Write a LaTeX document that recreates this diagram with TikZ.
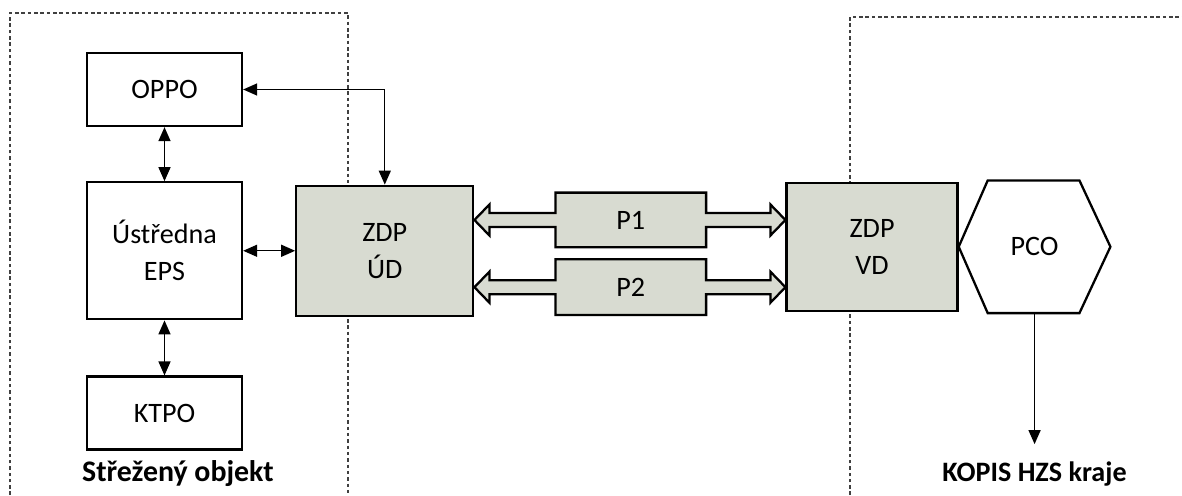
\documentclass[tikz,border=0pt]{standalone}
\usepackage{fontspec}
\setmainfont{Carlito}
\usetikzlibrary{arrows.meta,calc,positioning,backgrounds}
\definecolor{zdpfill}{RGB}{216,219,209}

\begin{document}
\begin{tikzpicture}[
  font=\fontsize{16}{21}\selectfont,
  box/.style={draw, line width=1.3pt, align=center, minimum width=3.1cm, minimum height=1.46cm},
  zdp/.style={box, fill=zdpfill, minimum height=2.6cm},
  pbox/.style={align=center, minimum width=3.0cm, minimum height=1.08cm},
  fat/.style={draw, line width=1.3pt, fill=zdpfill, line join=miter},
  arr/.style={{Triangle[length=2.8mm,width=2.4mm]}-{Triangle[length=2.8mm,width=2.4mm]}, line width=0.8pt},
  arr1/.style={-{Triangle[length=2.8mm,width=2.4mm]}, line width=0.8pt},
  frame/.style={line width=0.8pt, draw=black!75, dash pattern=on 2pt off 1.6pt},
  lbl/.style={font=\fontsize{16}{21}\selectfont\bfseries, inner sep=0pt}]
\useasboundingbox (0,0) rectangle (23.64,9.9);
\node[box] (opo) at (3.29,8.11) {OPPO};
\node[box, below=1.08cm of opo, minimum height=2.74cm] (eps) {Ústředna\\EPS};
\node[box, below=1.1cm of eps] (ktpo) {KTPO};
\node[zdp, right=1.04cm of eps, minimum width=3.54cm] (zud) {ZDP\\ÚD};
\node[pbox, right=1.62cm of zud.north east, anchor=north west, yshift=-0.16cm] (p1) {P1};
\node[pbox, below=0.24cm of p1, minimum height=1.1cm] (p2) {P2};
\node[zdp, right=6.22cm of zud, yshift=0.08cm, minimum width=3.42cm, minimum height=2.56cm] (zvd) {ZDP\\VD};
\node[right=0cm of zvd, minimum width=3.02cm, minimum height=2.64cm] (pco) {PCO};
\node[lbl, below=0.18cm of ktpo.south west, anchor=north west, xshift=-0.08cm,
  font=\fontsize{17}{21}\selectfont\bfseries] (obj) {Střežený objekt};
\node[lbl, below=2.96cm of pco] (kopis) {KOPIS HZS kraje};
% hexagon of PCO
\draw[line width=1.3pt, line join=miter] (pco.west) -- ([xshift=0.58cm]pco.north west)
  -- ([xshift=-0.62cm]pco.north east) -- (pco.east) -- ([xshift=-0.62cm]pco.south east)
  -- ([xshift=0.58cm]pco.south west) -- cycle;
\begin{scope}[on background layer]
% guarded object and KOPIS frames
\draw[frame] (0.2,0) -- (0.2,9.64) -- (6.96,9.64) -- (6.96,0);
\draw[frame] (17.0,0) -- (17.0,9.56) -- (23.64,9.56);
% transfer paths P1, P2
\foreach \p in {p1,p2}{
  \draw[fat] (\p.north west) -- ($(\p.west)+(0,0.14)$)
    -- ($(zud.east|-\p.west)+(0.3,0.14)$) -- ($(zud.east|-\p.west)+(0.3,0.31)$)
    -- (zud.east|-\p.west)
    -- ($(zud.east|-\p.west)+(0.3,-0.31)$) -- ($(zud.east|-\p.west)+(0.3,-0.14)$)
    -- ($(\p.west)+(0,-0.14)$) -- (\p.south west) -- (\p.south east)
    -- ($(\p.east)+(0,-0.14)$)
    -- ($(zvd.west|-\p.east)+(-0.3,-0.14)$) -- ($(zvd.west|-\p.east)+(-0.3,-0.31)$)
    -- (zvd.west|-\p.east)
    -- ($(zvd.west|-\p.east)+(-0.3,0.31)$) -- ($(zvd.west|-\p.east)+(-0.3,0.14)$)
    -- ($(\p.east)+(0,0.14)$) -- (\p.north east) -- cycle;
}
\end{scope}
\draw[arr] (opo) -- (eps);
\draw[arr] (eps) -- (ktpo);
\draw[arr] (eps) -- (zud);
\draw[arr] (opo.east) -| (zud.north);
\draw[arr1, shorten >=0.34cm] (pco) -- (kopis);
\end{tikzpicture}
\end{document}
